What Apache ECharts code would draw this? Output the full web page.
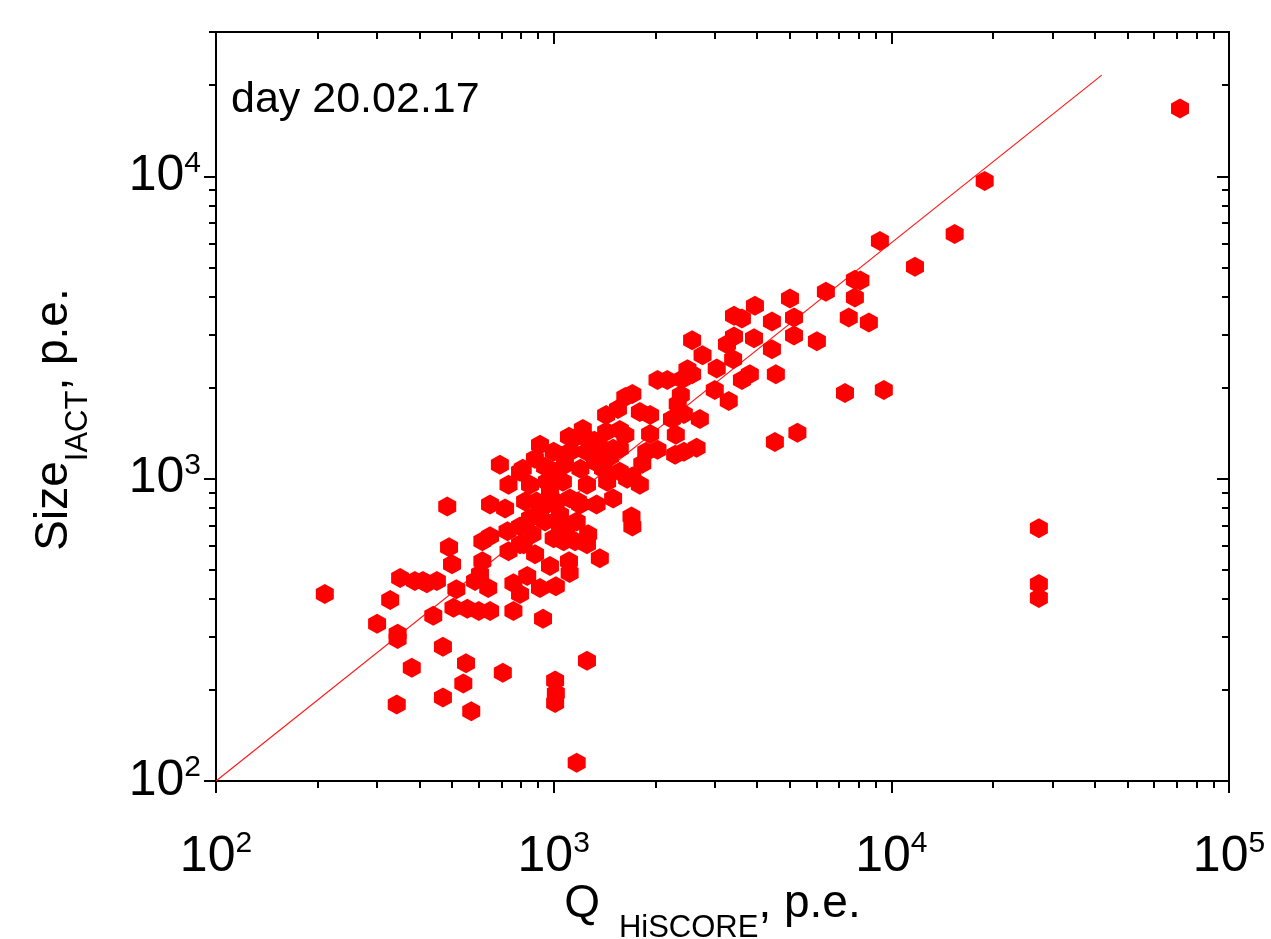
<!DOCTYPE html>
<html><head><meta charset="utf-8">
<script src="https://cdn.jsdelivr.net/npm/echarts@6/dist/echarts.min.js"></script>
<style>html,body{margin:0;padding:0;background:#fff}#c{width:1271px;height:939px}</style>
</head><body><div id="c"></div>
<script>
// Q_HiSCORE (p.e.) and Size_IACT (p.e.) for each event
const qHiscore = [
 71600,18900,15400,9250,11750,7800,8100,7800,6400,5010,3945,3420,3610,5150,7480,8580,4430,
 2570,3260,3420,3920,5150,6020,2760,4430,3400,3040,4550,3810,3610,2490,2570,2030,2170,2400,
 2380,3000,3300,7290,9500,1930,2240,2430,2710,2300,2650,2030,2290,2430,4520,5270,
 1630,1710,1550,1800,1430,1930,1430,1630,1500,1400,2330,1220,1570,1140,1260,911,1000,1255,
 1570,1880,810,880,1080,1200,1830,1400,1570,1710,1800,851,955,1065,1255,1440,1500,1340,
 1180,890,1015,1700,1710,851,943,1044,1265,1157,1000,865,815,484,735,795,693,648,718,
 490,500,615,648,730,735,615,605,410,451,585,640,515,760,835,795,911,1015,881,975,1110,
 1115,1255,795,440,505,555,600,648,760,930,1170,1070,955,1118,1197,
 210,328,300,345,345,351,388,421,1370,1320,1650,1370,1090,1110,
 823,911,795,975,1044,1118,1009,1325,1468,943,
 343,380,470,470,550,540,570,707,1010,1015,1010,1255,1170,
 27350,27350,27350
];
const sizeIact = [
 16750,9640,6440,6110,5020,4550,4520,3970,4150,3940,3730,3460,3385,3410,3410,3285,3310,
 2866,2782,2950,2911,2975,2845,2557,2680,2481,2315,2215,2215,2118,2300,2215,2118,2118,2133,
 1890,1963,1806,1920,1963,1624,1575,1636,1575,1396,1265,1246,1200,1227,1323,1417,
 1862,1905,1700,1661,1624,1406,1428,1396,1256,1256,1767,1460,1449,1355,1355,1294,1227,1227,
 1256,1227,1078,1163,1112,1078,1121,1078,1054,1016,955,955,977,977,955,977,859,821,
 840,840,840,750,695,739,722,761,655,621,635,655,607,809,955,1054,1112,821,796,
 593,521,621,645,670,575,533,484,459,459,459,435,431,451,476,415,435,441,562,514,533,
 487,607,607,352,374,371,365,365,365,344,722,621,821,859,821,
 415,397,331,307,295,469,459,451,545,1334,1000,1200,685,1375,
 840,778,695,906,695,1227,1054,1138,1181,1095,
 179,237,278,189,245,210,170,228,215,195,181,250,115,
 685,448,403
];
// fitted line end points
const fitQ = [100, 42000];
const fitSize = [100, 21600];
// axes
const xMin = 100, xMax = 100000, yMin = 100, yMax = 30000;
const xMajorTicks = [100, 1000, 10000, 100000];
const yMajorTicks = [100, 1000, 10000];
const annotation = 'day 20.02.17';

function minorTicks(lo, hi) {
  const out = [];
  for (let d = lo; d < hi; d *= 10) {
    for (let m = 2; m <= 9; m++) { const v = m * d; if (v <= hi) out.push(v); }
  }
  return out;
}
const xMinorTicks = minorTicks(xMin, xMax);
const yMinorTicks = minorTicks(yMin, yMax);

const FONT = 'Liberation Sans, Arial, sans-serif';
const expLabel = v => '{b|10}{s|' + Math.round(Math.log10(v)) + '}';
const labelRich = {
  b: { fontSize: 50, fontFamily: FONT, color: '#000', lineHeight: 56 },
  s: { fontSize: 30, fontFamily: FONT, color: '#000', lineHeight: 28, verticalAlign: 'top' }
};
const axisLine = { show: true, lineStyle: { color: '#000', width: 2 } };

function mkAxis(kind, pos, ticks, len, inside, withLabels, extra) {
  const isX = kind === 'x';
  const a = {
    type: 'log', logBase: 10,
    min: isX ? xMin : yMin, max: isX ? xMax : yMax,
    position: pos,
    axisLine: axisLine,
    axisTick: { show: true, inside: inside, length: len, customValues: ticks, lineStyle: { color: '#000', width: 2 } },
    axisLabel: withLabels ? {
      show: true, customValues: ticks, formatter: expLabel, rich: labelRich,
      margin: isX ? 48 : 15
    } : { show: false },
    splitLine: { show: false }, minorTick: { show: false }, minorSplitLine: { show: false }
  };
  return Object.assign(a, extra || {});
}

const xName = '{a|Q }{s|HiSCORE}{a|, p.e.}';
const yName = '{a|Size}{s|IACT}{a|, p.e.}';
const nameRich = {
  a: { fontSize: 46, fontFamily: FONT, color: '#000', lineHeight: 52 },
  s: { fontSize: 31, fontFamily: FONT, color: '#000', lineHeight: 30, verticalAlign: 'bottom', padding: [0, 0, -14, 0] }
};
const xNameRich = {
  a: nameRich.a,
  s: { fontSize: 31, fontFamily: FONT, color: '#000', lineHeight: 30, verticalAlign: 'bottom', padding: [0, 0, -14, 6] }
};

const chart = echarts.init(document.getElementById('c'), null, { renderer: 'canvas' });
chart.setOption({
  animation: false,
  backgroundColor: '#fff',
  grid: { left: 216, right: 42, top: 32, bottom: 158, containLabel: false, outerBoundsMode: 'none' },
  xAxis: [
    mkAxis('x', 'bottom', xMajorTicks, 12, false, true, {
      name: xName, nameLocation: 'middle', nameGap: 97, nameMoveOverlap: false,
      nameTextStyle: { rich: xNameRich, padding: [0, 20, 0, 0] }
    }),
    mkAxis('x', 'bottom', xMinorTicks, 7, false, false),
    mkAxis('x', 'top', xMajorTicks, 12, true, false),
    mkAxis('x', 'top', xMinorTicks, 7, true, false)
  ],
  yAxis: [
    mkAxis('y', 'left', yMajorTicks, 12, false, true, {
      name: yName, nameLocation: 'middle', nameGap: 136, nameRotate: 90, nameMoveOverlap: false,
      nameTextStyle: { rich: nameRich, padding: [0, 26, 0, 0] }
    }),
    mkAxis('y', 'left', yMinorTicks, 7, false, false),
    mkAxis('y', 'right', yMajorTicks, 12, true, false),
    mkAxis('y', 'right', yMinorTicks, 7, true, false)
  ],
  graphic: [{
    type: 'text', left: 231, top: 79, z: 10,
    style: { text: annotation, font: '43px ' + FONT, fill: '#000' }
  }],
  series: [
    {
      type: 'line', xAxisIndex: 0, yAxisIndex: 0, z: 1,
      data: fitQ.map((q, i) => [q, fitSize[i]]),
      symbol: 'none', silent: true,
      lineStyle: { color: '#ff1a1a', width: 1.2 }
    },
    {
      type: 'scatter', xAxisIndex: 0, yAxisIndex: 0, z: 2,
      data: qHiscore.map((q, i) => [q, sizeIact[i]]),
      symbol: 'path://M0,-1L0.866,-0.5L0.866,0.5L0,1L-0.866,0.5L-0.866,-0.5Z',
      symbolSize: [18, 20],
      itemStyle: { color: '#ff0000', opacity: 1 }
    }
  ]
});
</script>
</body></html>
